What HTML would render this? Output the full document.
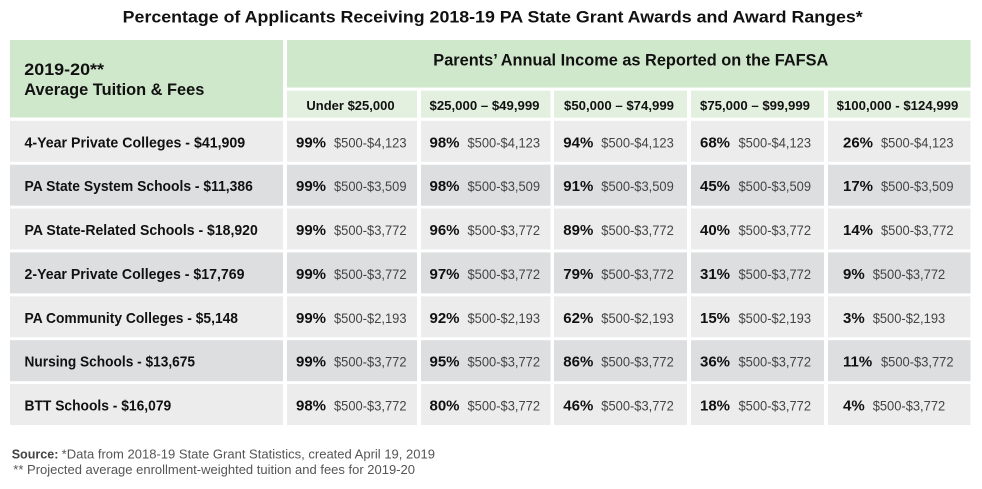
<!DOCTYPE html>
<html>
<head>
<meta charset="utf-8">
<style>
html,body{margin:0;padding:0;background:#fff;}
svg{display:block;}
text{font-family:"Liberation Sans",Arial,sans-serif;}
.b{font-weight:bold;fill:#111;}
.r{fill:#444;font-size:13.5px;}
.p{font-weight:bold;fill:#111;font-size:15px;}
.lab{font-weight:bold;fill:#111;font-size:15px;}
.sh{font-weight:bold;fill:#111;font-size:13px;}
</style>
</head>
<body>
<svg width="982" height="489" viewBox="0 0 982 489" xmlns="http://www.w3.org/2000/svg">
<rect x="0" y="0" width="982" height="489" fill="#fff"/>
<!-- Title -->
<text class="b" x="122.7" y="22.7" font-size="16.5" textLength="740" lengthAdjust="spacingAndGlyphs">Percentage of Applicants Receiving 2018-19 PA State Grant Awards and Award Ranges*</text>

<!-- Header -->
<rect x="10" y="40" width="273" height="77.5" fill="#cfe7ca"/>
<rect x="287" y="40" width="683.5" height="47.5" fill="#cfe7ca"/>
<text class="b" x="24.3" y="75" font-size="16.5" textLength="79.7" lengthAdjust="spacingAndGlyphs">2019-20**</text>
<text class="b" x="24.3" y="95" font-size="16.5" textLength="180" lengthAdjust="spacingAndGlyphs">Average Tuition &amp; Fees</text>
<text class="b" x="433.3" y="65.7" font-size="17" textLength="395" lengthAdjust="spacingAndGlyphs">Parents’ Annual Income as Reported on the FAFSA</text>

<!-- Subheaders -->
<rect x="287" y="90.7" width="130" height="27" fill="#e3f0df"/>
<rect x="421" y="90.7" width="129.5" height="27" fill="#e3f0df"/>
<rect x="554" y="90.7" width="133" height="27" fill="#e3f0df"/>
<rect x="691" y="90.7" width="133" height="27" fill="#e3f0df"/>
<rect x="828" y="90.7" width="142.5" height="27" fill="#e3f0df"/>
<text class="sh" x="350.5" y="110" text-anchor="middle">Under $25,000</text>
<text class="sh" x="484.5" y="110" text-anchor="middle" textLength="110" lengthAdjust="spacingAndGlyphs">$25,000 – $49,999</text>
<text class="sh" x="619" y="110" text-anchor="middle" textLength="110" lengthAdjust="spacingAndGlyphs">$50,000 – $74,999</text>
<text class="sh" x="755" y="110" text-anchor="middle" textLength="110" lengthAdjust="spacingAndGlyphs">$75,000 – $99,999</text>
<text class="sh" x="897.5" y="110" text-anchor="middle" textLength="121.7" lengthAdjust="spacingAndGlyphs">$100,000 - $124,999</text>

<!-- Row backgrounds -->
<g>
<!-- row 1 light -->
<g fill="#ececec">
<rect x="10" y="120.8" width="273" height="41"/><rect x="287" y="120.8" width="130" height="41"/><rect x="421" y="120.8" width="129.5" height="41"/><rect x="554" y="120.8" width="133" height="41"/><rect x="691" y="120.8" width="133" height="41"/><rect x="828" y="120.8" width="142.5" height="41"/>
<rect x="10" y="208.5" width="273" height="41"/><rect x="287" y="208.5" width="130" height="41"/><rect x="421" y="208.5" width="129.5" height="41"/><rect x="554" y="208.5" width="133" height="41"/><rect x="691" y="208.5" width="133" height="41"/><rect x="828" y="208.5" width="142.5" height="41"/>
<rect x="10" y="296.3" width="273" height="41"/><rect x="287" y="296.3" width="130" height="41"/><rect x="421" y="296.3" width="129.5" height="41"/><rect x="554" y="296.3" width="133" height="41"/><rect x="691" y="296.3" width="133" height="41"/><rect x="828" y="296.3" width="142.5" height="41"/>
<rect x="10" y="384" width="273" height="41"/><rect x="287" y="384" width="130" height="41"/><rect x="421" y="384" width="129.5" height="41"/><rect x="554" y="384" width="133" height="41"/><rect x="691" y="384" width="133" height="41"/><rect x="828" y="384" width="142.5" height="41"/>
</g>
<g fill="#dddee0">
<rect x="10" y="164.7" width="273" height="41"/><rect x="287" y="164.7" width="130" height="41"/><rect x="421" y="164.7" width="129.5" height="41"/><rect x="554" y="164.7" width="133" height="41"/><rect x="691" y="164.7" width="133" height="41"/><rect x="828" y="164.7" width="142.5" height="41"/>
<rect x="10" y="252.4" width="273" height="41"/><rect x="287" y="252.4" width="130" height="41"/><rect x="421" y="252.4" width="129.5" height="41"/><rect x="554" y="252.4" width="133" height="41"/><rect x="691" y="252.4" width="133" height="41"/><rect x="828" y="252.4" width="142.5" height="41"/>
<rect x="10" y="340.2" width="273" height="41"/><rect x="287" y="340.2" width="130" height="41"/><rect x="421" y="340.2" width="129.5" height="41"/><rect x="554" y="340.2" width="133" height="41"/><rect x="691" y="340.2" width="133" height="41"/><rect x="828" y="340.2" width="142.5" height="41"/>
</g>
</g>

<!-- Row labels -->
<text class="lab" x="24.5" y="147.3" textLength="220.7" lengthAdjust="spacingAndGlyphs">4-Year Private Colleges - $41,909</text>
<text class="lab" x="24.5" y="191.2" textLength="228.3" lengthAdjust="spacingAndGlyphs">PA State System Schools - $11,386</text>
<text class="lab" x="24.5" y="235" textLength="233.3" lengthAdjust="spacingAndGlyphs">PA State-Related Schools - $18,920</text>
<text class="lab" x="24.5" y="278.9" textLength="220" lengthAdjust="spacingAndGlyphs">2-Year Private Colleges - $17,769</text>
<text class="lab" x="24.5" y="322.8" textLength="213.5" lengthAdjust="spacingAndGlyphs">PA Community Colleges - $5,148</text>
<text class="lab" x="24.5" y="366.7" textLength="170.5" lengthAdjust="spacingAndGlyphs">Nursing Schools - $13,675</text>
<text class="lab" x="24.5" y="410.5" textLength="146.7" lengthAdjust="spacingAndGlyphs">BTT Schools - $16,079</text>

<!-- Row 1 -->
<text class="p" x="296" y="147.3">99%</text><text class="r" x="334" y="147.3" textLength="72.5" lengthAdjust="spacingAndGlyphs">$500-$4,123</text>
<text class="p" x="429.5" y="147.3">98%</text><text class="r" x="467.5" y="147.3" textLength="72.5" lengthAdjust="spacingAndGlyphs">$500-$4,123</text>
<text class="p" x="563.3" y="147.3">94%</text><text class="r" x="601.3" y="147.3" textLength="72.5" lengthAdjust="spacingAndGlyphs">$500-$4,123</text>
<text class="p" x="700" y="147.3">68%</text><text class="r" x="738.5" y="147.3" textLength="72.5" lengthAdjust="spacingAndGlyphs">$500-$4,123</text>
<text class="p" x="843" y="147.3">26%</text><text class="r" x="881" y="147.3" textLength="72.5" lengthAdjust="spacingAndGlyphs">$500-$4,123</text>

<!-- Row 2 -->
<text class="p" x="296" y="191.2">99%</text><text class="r" x="334" y="191.2" textLength="72.5" lengthAdjust="spacingAndGlyphs">$500-$3,509</text>
<text class="p" x="429.5" y="191.2">98%</text><text class="r" x="467.5" y="191.2" textLength="72.5" lengthAdjust="spacingAndGlyphs">$500-$3,509</text>
<text class="p" x="563.3" y="191.2">91%</text><text class="r" x="601.3" y="191.2" textLength="72.5" lengthAdjust="spacingAndGlyphs">$500-$3,509</text>
<text class="p" x="700" y="191.2">45%</text><text class="r" x="738.5" y="191.2" textLength="72.5" lengthAdjust="spacingAndGlyphs">$500-$3,509</text>
<text class="p" x="843" y="191.2">17%</text><text class="r" x="881" y="191.2" textLength="72.5" lengthAdjust="spacingAndGlyphs">$500-$3,509</text>

<!-- Row 3 -->
<text class="p" x="296" y="235">99%</text><text class="r" x="334" y="235" textLength="72.5" lengthAdjust="spacingAndGlyphs">$500-$3,772</text>
<text class="p" x="429.5" y="235">96%</text><text class="r" x="467.5" y="235" textLength="72.5" lengthAdjust="spacingAndGlyphs">$500-$3,772</text>
<text class="p" x="563.3" y="235">89%</text><text class="r" x="601.3" y="235" textLength="72.5" lengthAdjust="spacingAndGlyphs">$500-$3,772</text>
<text class="p" x="700" y="235">40%</text><text class="r" x="738.5" y="235" textLength="72.5" lengthAdjust="spacingAndGlyphs">$500-$3,772</text>
<text class="p" x="843" y="235">14%</text><text class="r" x="881" y="235" textLength="72.5" lengthAdjust="spacingAndGlyphs">$500-$3,772</text>

<!-- Row 4 -->
<text class="p" x="296" y="278.9">99%</text><text class="r" x="334" y="278.9" textLength="72.5" lengthAdjust="spacingAndGlyphs">$500-$3,772</text>
<text class="p" x="429.5" y="278.9">97%</text><text class="r" x="467.5" y="278.9" textLength="72.5" lengthAdjust="spacingAndGlyphs">$500-$3,772</text>
<text class="p" x="563.3" y="278.9">79%</text><text class="r" x="601.3" y="278.9" textLength="72.5" lengthAdjust="spacingAndGlyphs">$500-$3,772</text>
<text class="p" x="700" y="278.9">31%</text><text class="r" x="738.5" y="278.9" textLength="72.5" lengthAdjust="spacingAndGlyphs">$500-$3,772</text>
<text class="p" x="843" y="278.9">9%</text><text class="r" x="872.7" y="278.9" textLength="72.5" lengthAdjust="spacingAndGlyphs">$500-$3,772</text>

<!-- Row 5 -->
<text class="p" x="296" y="322.8">99%</text><text class="r" x="334" y="322.8" textLength="72.5" lengthAdjust="spacingAndGlyphs">$500-$2,193</text>
<text class="p" x="429.5" y="322.8">92%</text><text class="r" x="467.5" y="322.8" textLength="72.5" lengthAdjust="spacingAndGlyphs">$500-$2,193</text>
<text class="p" x="563.3" y="322.8">62%</text><text class="r" x="601.3" y="322.8" textLength="72.5" lengthAdjust="spacingAndGlyphs">$500-$2,193</text>
<text class="p" x="700" y="322.8">15%</text><text class="r" x="738.5" y="322.8" textLength="72.5" lengthAdjust="spacingAndGlyphs">$500-$2,193</text>
<text class="p" x="843" y="322.8">3%</text><text class="r" x="872.7" y="322.8" textLength="72.5" lengthAdjust="spacingAndGlyphs">$500-$2,193</text>

<!-- Row 6 -->
<text class="p" x="296" y="366.7">99%</text><text class="r" x="334" y="366.7" textLength="72.5" lengthAdjust="spacingAndGlyphs">$500-$3,772</text>
<text class="p" x="429.5" y="366.7">95%</text><text class="r" x="467.5" y="366.7" textLength="72.5" lengthAdjust="spacingAndGlyphs">$500-$3,772</text>
<text class="p" x="563.3" y="366.7">86%</text><text class="r" x="601.3" y="366.7" textLength="72.5" lengthAdjust="spacingAndGlyphs">$500-$3,772</text>
<text class="p" x="700" y="366.7">36%</text><text class="r" x="738.5" y="366.7" textLength="72.5" lengthAdjust="spacingAndGlyphs">$500-$3,772</text>
<text class="p" x="843" y="366.7">11%</text><text class="r" x="881" y="366.7" textLength="72.5" lengthAdjust="spacingAndGlyphs">$500-$3,772</text>

<!-- Row 7 -->
<text class="p" x="296" y="410.5">98%</text><text class="r" x="334" y="410.5" textLength="72.5" lengthAdjust="spacingAndGlyphs">$500-$3,772</text>
<text class="p" x="429.5" y="410.5">80%</text><text class="r" x="467.5" y="410.5" textLength="72.5" lengthAdjust="spacingAndGlyphs">$500-$3,772</text>
<text class="p" x="563.3" y="410.5">46%</text><text class="r" x="601.3" y="410.5" textLength="72.5" lengthAdjust="spacingAndGlyphs">$500-$3,772</text>
<text class="p" x="700" y="410.5">18%</text><text class="r" x="738.5" y="410.5" textLength="72.5" lengthAdjust="spacingAndGlyphs">$500-$3,772</text>
<text class="p" x="843" y="410.5">4%</text><text class="r" x="872.7" y="410.5" textLength="72.5" lengthAdjust="spacingAndGlyphs">$500-$3,772</text>

<!-- Footnotes -->
<text x="11.7" y="458.7" font-size="13" font-weight="bold" fill="#444" textLength="46.7" lengthAdjust="spacingAndGlyphs">Source:</text>
<text x="61.7" y="458.7" font-size="13" fill="#555" textLength="373.3" lengthAdjust="spacingAndGlyphs">*Data from 2018-19 State Grant Statistics, created April 19, 2019</text>
<text x="13.3" y="474" font-size="13" fill="#555" textLength="401.7" lengthAdjust="spacingAndGlyphs">** Projected average enrollment-weighted tuition and fees for 2019-20</text>
</svg>
</body>
</html>
